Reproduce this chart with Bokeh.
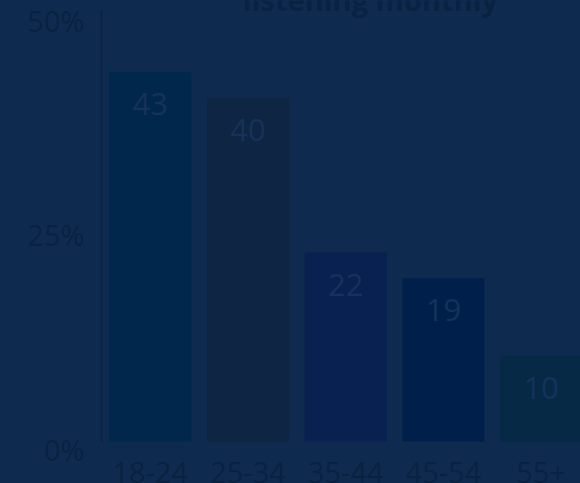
from bokeh.plotting import figure
from bokeh.models import (Range1d, FixedTicker, LabelSet, ColumnDataSource,
                          Label, LinearAxis)
from bokeh.core.properties import value
from bokeh.embed import file_html
from bokeh.resources import INLINE

categories = ["18-24", "25-34", "35-44", "45-54", "55+"]
values = [43, 40, 22, 19, 10]
value_labels = ["43", "40", "22", "19", "10"]
bar_colors = ["#02274c", "#0e2543", "#092150", "#011f4b", "#062a45"]
y_ticks = [0, 25, 50]
y_tick_labels = ["0%", "25%", "50%"]
title_text = "listening monthly"

BG = "#0e2b4f"
TEXT = "#092242"
VALUE_TEXT = "#15325a"
FONT = "Open Sans"

x_pos = [i + 0.5 for i in range(len(categories))]

src = ColumnDataSource(dict(x=x_pos, top=values, color=bar_colors,
                            label=value_labels, cat=categories))

p = figure(frame_width=479, frame_height=449,
           output_backend="svg", toolbar_location=None,
           x_range=Range1d(0, 4.903), y_range=Range1d(-0.931, 51.34),
           min_border_left=101, min_border_right=0, min_border_top=0,
           min_border_bottom=0,
           background_fill_color=BG, border_fill_color=BG,
           outline_line_color=BG, outline_line_width=2,
           styles={"background-color": BG})
p.extra_y_ranges = {"lab": Range1d(0, 52.271)}

p.vbar(x="x", top="top", bottom=0, width=0.84, fill_color="color",
       line_color=None, source=src)

p.xgrid.visible = False
p.ygrid.visible = False

# x axis
p.xaxis.ticker = FixedTicker(ticks=x_pos)
p.xaxis.major_label_overrides = {x: c for x, c in zip(x_pos, categories)}
p.xaxis.axis_line_color = None
p.xaxis.major_tick_line_color = None
p.xaxis.minor_tick_line_color = None
p.xaxis.major_label_text_font = FONT
p.xaxis.major_label_text_font_size = "29px"
p.xaxis.major_label_text_color = TEXT
p.xaxis.major_label_standoff = 6

# y axis line (from 0 to top of scale)
yl = p.yaxis[0]
yl.ticker = FixedTicker(ticks=[])
yl.bounds = (0, 50.17)
yl.axis_line_color = TEXT
yl.axis_line_width = 1.5
yl.major_tick_line_color = None
yl.minor_tick_line_color = None
yl.major_label_text_font_size = "1px"
yl.major_label_standoff = 0

# y tick labels
ylab = LinearAxis(y_range_name="lab", ticker=FixedTicker(ticks=y_ticks),
                  major_label_overrides={t: l for t, l in zip(y_ticks, y_tick_labels)},
                  axis_line_color=None, major_tick_line_color=None,
                  minor_tick_line_color=None,
                  major_label_text_font=FONT,
                  major_label_text_font_size="29px",
                  major_label_text_color=TEXT,
                  major_label_standoff=11)
p.add_layout(ylab, "left")

vlabels = LabelSet(x="x", y="top", text="label", source=src, y_offset=-32,
                   text_align="center", text_baseline="middle",
                   text_font=value(FONT), text_font_size=value("31px"),
                   text_color=VALUE_TEXT)
p.add_layout(vlabels)

title = Label(x=2.753, y=50.06, y_offset=12, text=title_text,
              text_align="center", text_baseline="alphabetic",
              text_font=FONT, text_font_size="29px",
              text_font_style="bold", text_color=TEXT)
p.add_layout(title)

open("out.html", "w").write(file_html(p, INLINE))
